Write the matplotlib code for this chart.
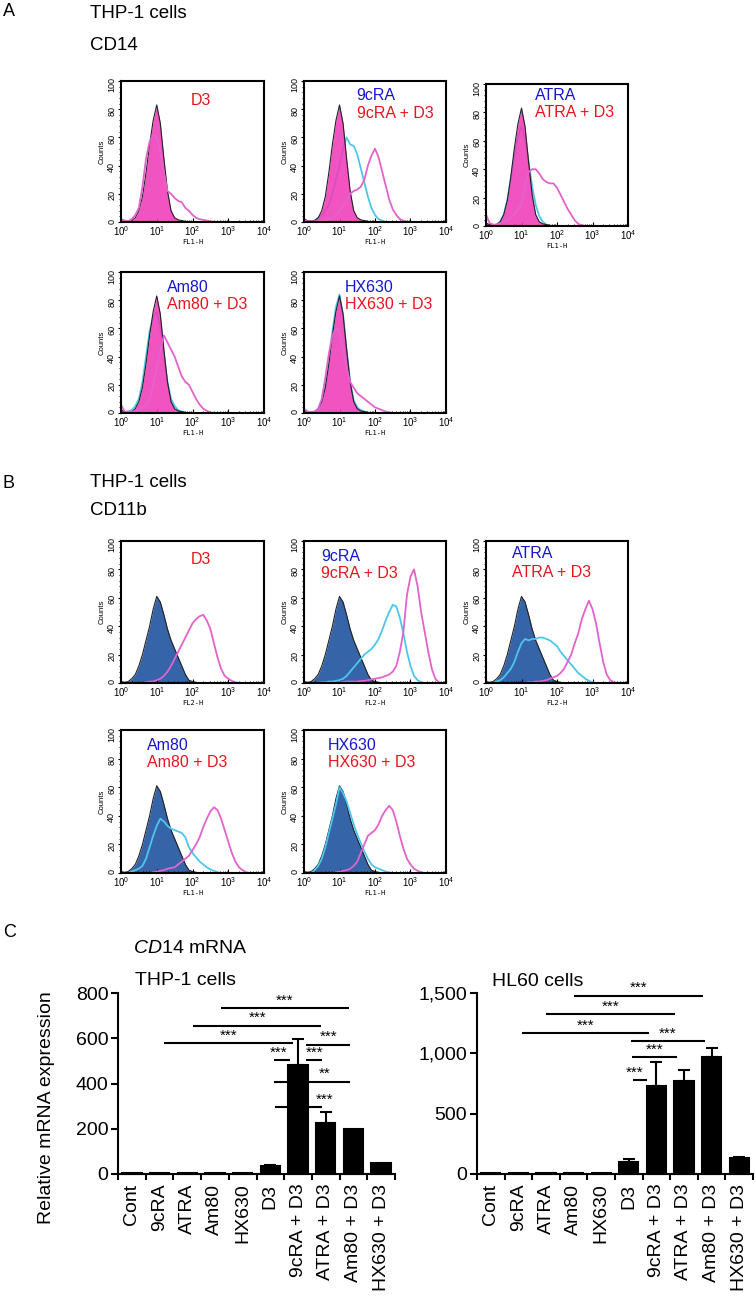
import numpy as np
import matplotlib.pyplot as plt
from matplotlib.ticker import MultipleLocator, LogLocator, NullFormatter

plt.rcParams['font.family'] = ['Liberation Sans', 'DejaVu Sans']
plt.rcParams['mathtext.fontset'] = 'custom'
plt.rcParams['mathtext.rm'] = 'Liberation Sans'
plt.rcParams['mathtext.it'] = 'Liberation Sans:italic'

# ---- flow cytometry histograms: counts at 0.1-decade steps of log10(FL) ----
log_fl = np.arange(41) / 10.0

# panel A, CD14 (FL1-H)
a_ctrl = [2, 1, 0.5, 1, 3, 8, 18, 35, 55, 72, 83, 70, 45, 22, 8, 3, 1.5, 1, 0.5]
a_d3 = [2, 1, 0.5, 2, 5, 10, 25, 45, 57, 62, 60, 50, 35, 22, 20, 17, 15, 14, 10, 8,
        5, 3, 2, 1.5, 1, 0.5]
a_9cra = [1, 0.5, 0.5, 1, 3, 5, 8, 12, 20, 30, 40, 52, 60, 55, 54, 48, 38, 28, 18, 10,
          5, 2, 1]
a_9cra_d3 = [1, 0.5, 0.5, 0.5, 1, 1, 1.5, 2, 3, 5, 8, 12, 15, 20, 22, 23, 25, 30, 40, 47,
             52, 46, 36, 26, 16, 9, 5, 2, 1]
a_atra = [1, 0.5, 0.5, 1, 3, 8, 18, 33, 50, 63, 70, 62, 45, 28, 15, 7, 3, 1]
a_atra_d3 = [8, 2, 1, 1, 2, 3, 4, 6, 8, 12, 15, 28, 38, 40, 40, 37, 33, 31, 30, 30,
             27, 22, 17, 12, 8, 4, 1.5, 0.5]
a_am80 = [1, 0.5, 1, 2, 5, 10, 22, 40, 58, 68, 72, 60, 40, 22, 10, 5, 2, 1]
a_am80_d3 = [6, 1, 1, 1, 1.5, 2, 4, 6, 10, 20, 32, 45, 55, 50, 45, 40, 33, 26, 22, 20,
             15, 10, 6, 3, 1.5, 0.5]
a_hx630 = [1, 0.5, 0.5, 1, 3, 8, 18, 36, 58, 75, 84, 70, 45, 22, 9, 4, 2, 1]
a_hx630_d3 = [3, 1, 0.5, 1, 3, 10, 25, 42, 55, 60, 58, 45, 32, 22, 18, 14, 12, 10, 8, 6,
              4, 3, 2, 1, 0.5]

# panel B, CD11b
b_ctrl = [1, 0.5, 1, 3, 6, 12, 20, 30, 40, 52, 61, 57, 48, 38, 30, 24, 18, 12, 6, 2,
          1, 0.5]
b_d3 = [0, 0, 0, 0, 0, 0, 0, 0.5, 1, 1, 2, 3, 5, 8, 12, 17, 22, 27, 32, 37,
        42, 45, 47, 48, 44, 38, 28, 18, 10, 5, 3, 1.5, 0.5]
b_9cra = [0, 0, 0, 0, 0, 0.5, 0.5, 1, 1, 1.5, 2, 3, 5, 8, 11, 14, 17, 20, 22, 24,
          27, 31, 37, 44, 50, 55, 54, 46, 35, 22, 12, 5, 2, 0.5]
b_9cra_d3 = [0, 0, 0, 0, 0, 0, 0, 0, 0, 0, 0.5, 0.5, 1, 1, 1, 1, 1.5, 1.5, 2, 2.5,
             3, 3.5, 4, 5, 6, 8, 12, 22, 36, 62, 75, 80, 68, 50, 36, 22, 10, 3, 0.5]
b_atra = [0, 0, 0, 1, 2, 4, 7, 10, 15, 22, 28, 31, 30, 31, 31, 32, 32, 31, 30, 28,
          26, 22, 19, 16, 13, 10, 7, 5, 3, 1.5, 0.5]
b_atra_d3 = [0, 0, 0, 0, 0, 0, 0, 0, 0, 0, 0, 0, 0.5, 0.5, 1, 1, 1.5, 2, 3, 4,
             5, 7, 10, 15, 20, 28, 35, 45, 52, 58, 52, 42, 28, 15, 6, 2, 0.5]
b_am80 = [0, 0, 0, 1, 2, 3, 5, 10, 18, 26, 33, 38, 36, 33, 31, 30, 29, 28, 25, 18,
          14, 11, 8, 6, 4, 2.5, 1.5, 0.5]
b_am80_d3 = [0, 0, 0, 0, 0, 0, 0, 0, 0, 0.5, 1, 1.5, 2, 3, 3.5, 4, 6, 8, 10, 12,
             16, 20, 25, 32, 38, 43, 46, 44, 38, 30, 22, 14, 8, 4, 2, 0.5]
b_hx630 = [0, 0, 0, 2, 5, 10, 18, 28, 38, 48, 60, 56, 50, 42, 34, 27, 21, 15, 10, 6,
           4, 3, 2, 1, 0.5]
b_hx630_d3 = [0, 0, 0, 0, 0, 0, 0, 0, 0, 0.5, 1, 1.5, 2, 3, 5, 8, 14, 20, 26, 28,
              30, 34, 40, 44, 47, 44, 36, 26, 17, 10, 6, 3, 1.5, 0.5]

# ---- qPCR bars (panel C) ----
categories = ['Cont', '9cRA', 'ATRA', 'Am80', 'HX630', 'D3',
              '9cRA + D3', 'ATRA + D3', 'Am80 + D3', 'HX630 + D3']
thp1_mean = [3, 3, 3, 3, 3, 35, 480, 225, 200, 50]
thp1_err = [0, 0, 0, 0, 0, 5, 115, 50, 0, 0]
hl60_mean = [5, 5, 5, 5, 5, 100, 730, 770, 970, 133]
hl60_err = [0, 0, 0, 0, 0, 24, 198, 92, 74, 8]

# (start, end, height, stars, label position or None)
thp1_sig = [(3.22, 7.84, 734, '***', None), (2.22, 6.83, 656, '***', None),
            (1.17, 5.80, 578, '***', None), (6.29, 7.88, 572, '***', None),
            (5.13, 5.71, 502, '***', 5.30), (6.29, 6.87, 502, '***', None),
            (5.13, 7.86, 407, '**', 6.97), (5.15, 6.85, 295, '***', 6.97)]
hl60_sig = [(3.03, 7.69, 1478, '***', None), (2.01, 6.66, 1326, '***', None),
            (1.12, 5.73, 1166, '***', None), (5.08, 7.75, 1100, '***', None),
            (5.11, 6.75, 967, '***', None), (5.14, 5.66, 779, '***', 5.20)]

PINK = '#E462CC'
CYAN = '#4DC6EC'
PINK_FILL = '#F03CB8'
BLUE_FILL = '#3564A8'
BLUE_TXT = '#1616CC'
RED_TXT = '#E8141E'

W, H = 756, 1296
fig = plt.figure(figsize=(W / 100, H / 100), dpi=100)


def px_axes(l, t, r, b):
    return fig.add_axes([l / W, 1 - b / H, (r - l) / W, (b - t) / H])


def px_text(x, y, s, **kw):
    fig.text(x / W, 1 - y / H, s, **kw)


def counts(vals):
    out = np.zeros(len(log_fl))
    out[:len(vals)] = vals
    return out


def flow_plot(ax, ctrl, fill_color, pair, labels, xlab, lines_on_top):
    x = 10 ** log_fl
    c = counts(ctrl)
    fz, lz = (1, 3) if lines_on_top else (3, 1)
    ax.fill_between(x, c, color=fill_color, alpha=0.88 if not lines_on_top else 1,
                    lw=0, zorder=fz)
    ax.plot(x, c, color='#222222', lw=0.8, zorder=fz + 0.5)
    for vals, col in pair:
        z = lz if col == CYAN else 4
        ax.plot(x, counts(vals), color=col, lw=1.3, zorder=z)

    ax.set_xscale('log')
    ax.set_xlim(1, 1e4)
    ax.set_ylim(0, 100)
    for sp in ax.spines.values():
        sp.set_linewidth(1.5)
        sp.set_zorder(5)
    ax.yaxis.set_major_locator(MultipleLocator(20))
    ax.yaxis.set_minor_locator(MultipleLocator(4))
    ax.xaxis.set_major_locator(LogLocator(base=10, numticks=12))
    ax.xaxis.set_minor_locator(LogLocator(base=10, subs=np.arange(2, 10), numticks=12))
    ax.xaxis.set_minor_formatter(NullFormatter())
    ax.tick_params(axis='y', which='major', labelsize=6.5, labelrotation=90,
                   direction='out', length=2.5, width=0.8, pad=1)
    ax.tick_params(axis='y', which='minor', direction='out', length=1.5, width=0.6)
    ax.tick_params(axis='x', which='major', labelsize=7, direction='in',
                   length=3, width=0.8, pad=1.5)
    ax.tick_params(axis='x', which='minor', direction='in', length=1.8, width=0.6)
    ax.set_ylabel('Counts', fontsize=5.5, labelpad=1)
    ax.set_xlabel(xlab, fontsize=5, family='DejaVu Sans Mono', labelpad=0.5)

    for tx, ty, s, col, ha in labels:
        ax.text(tx, ty, s, color=col, fontsize=11.5, ha=ha, va='center',
                transform=ax.transAxes, zorder=6)


# ---- panel A ----
px_text(3, 16, 'A', fontsize=13, va='baseline')
px_text(90, 18, 'THP-1 cells', fontsize=13.5, va='baseline')
px_text(90, 50, 'CD14', fontsize=13.5, va='baseline')

ax = px_axes(121, 81, 264, 222)
flow_plot(ax, a_ctrl, PINK_FILL, [(a_d3, PINK)],
          [(0.56, 0.865, 'D3', RED_TXT, 'center')], 'FL1-H', False)
ax = px_axes(304, 81, 446, 222)
flow_plot(ax, a_ctrl, PINK_FILL, [(a_9cra, CYAN), (a_9cra_d3, PINK)],
          [(0.37, 0.90, '9cRA', BLUE_TXT, 'left'),
           (0.37, 0.77, '9cRA + D3', RED_TXT, 'left')], 'FL1-H', False)
ax = px_axes(486, 84, 628, 226)
flow_plot(ax, a_ctrl, PINK_FILL, [(a_atra, CYAN), (a_atra_d3, PINK)],
          [(0.345, 0.92, 'ATRA', BLUE_TXT, 'left'),
           (0.345, 0.80, 'ATRA + D3', RED_TXT, 'left')], 'FL1-H', False)
ax = px_axes(121, 272, 264, 413)
flow_plot(ax, a_ctrl, PINK_FILL, [(a_am80, CYAN), (a_am80_d3, PINK)],
          [(0.32, 0.89, 'Am80', BLUE_TXT, 'left'),
           (0.32, 0.77, 'Am80 + D3', RED_TXT, 'left')], 'FL1-H', False)
ax = px_axes(304, 272, 446, 413)
flow_plot(ax, a_ctrl, PINK_FILL, [(a_hx630, CYAN), (a_hx630_d3, PINK)],
          [(0.29, 0.89, 'HX630', BLUE_TXT, 'left'),
           (0.29, 0.77, 'HX630 + D3', RED_TXT, 'left')], 'FL1-H', False)

# ---- panel B ----
px_text(3, 488, 'B', fontsize=13, va='baseline')
px_text(90, 487, 'THP-1 cells', fontsize=13.5, va='baseline')
px_text(90, 515, 'CD11b', fontsize=13.5, va='baseline')

ax = px_axes(121, 541, 264, 683)
flow_plot(ax, b_ctrl, BLUE_FILL, [(b_d3, PINK)],
          [(0.56, 0.87, 'D3', RED_TXT, 'center')], 'FL2-H', True)
ax = px_axes(304, 541, 446, 683)
flow_plot(ax, b_ctrl, BLUE_FILL, [(b_9cra, CYAN), (b_9cra_d3, PINK)],
          [(0.12, 0.89, '9cRA', BLUE_TXT, 'left'),
           (0.12, 0.77, '9cRA + D3', RED_TXT, 'left')], 'FL2-H', True)
ax = px_axes(486, 541, 628, 683)
flow_plot(ax, b_ctrl, BLUE_FILL, [(b_atra, CYAN), (b_atra_d3, PINK)],
          [(0.18, 0.91, 'ATRA', BLUE_TXT, 'left'),
           (0.18, 0.78, 'ATRA + D3', RED_TXT, 'left')], 'FL2-H', True)
ax = px_axes(121, 730, 264, 873)
flow_plot(ax, b_ctrl, BLUE_FILL, [(b_am80, CYAN), (b_am80_d3, PINK)],
          [(0.18, 0.895, 'Am80', BLUE_TXT, 'left'),
           (0.18, 0.77, 'Am80 + D3', RED_TXT, 'left')], 'FL1-H', True)
ax = px_axes(304, 730, 446, 873)
flow_plot(ax, b_ctrl, BLUE_FILL, [(b_hx630, CYAN), (b_hx630_d3, PINK)],
          [(0.17, 0.895, 'HX630', BLUE_TXT, 'left'),
           (0.17, 0.77, 'HX630 + D3', RED_TXT, 'left')], 'FL1-H', True)


# ---- panel C ----
def bar_plot(ax, means, errs, ymax, yticks, yticklabels, sig):
    pos = np.arange(len(categories))
    means = np.array(means, float)
    errs = np.array(errs, float)
    ax.bar(pos, means, width=0.7, color='black', edgecolor='black', lw=1.5,
           zorder=3, clip_on=False)
    m = errs > 0
    ax.errorbar(pos[m], means[m], yerr=[np.zeros(m.sum()), errs[m]], fmt='none',
                ecolor='black', elinewidth=1.5, capsize=4.5, capthick=1.5, zorder=3)
    ax.set_xlim(-0.5, len(categories) - 0.5)
    ax.set_ylim(0, ymax)
    for s in ['top', 'right']:
        ax.spines[s].set_visible(False)
    for s in ['left', 'bottom']:
        ax.spines[s].set_linewidth(1.5)
    ax.set_yticks(yticks)
    ax.set_yticklabels(yticklabels)
    ax.set_xticks(np.arange(len(categories) + 1) - 0.5)
    ax.set_xticklabels([])
    ax.set_xticks(pos, minor=True)
    ax.set_xticklabels(categories, minor=True, rotation=90, fontsize=14)
    ax.tick_params(axis='x', which='major', length=4, width=1.5)
    ax.tick_params(axis='x', which='minor', length=0, pad=7)
    ax.tick_params(axis='y', labelsize=14, length=5, width=1.5, pad=2)
    for x0, x1, y, stars, lx in sig:
        ax.plot([x0, x1], [y, y], color='black', lw=1.5, solid_capstyle='butt',
                clip_on=False, zorder=4)
        ax.annotate(stars, ((x0 + x1) / 2 if lx is None else lx, y), xytext=(0, 5.5),
                    textcoords='offset points', ha='center', va='center',
                    fontsize=11, annotation_clip=False)


px_text(3, 937, 'C', fontsize=13, va='baseline')
px_text(133, 953, r'$\it{CD14}$ mRNA', fontsize=14, va='baseline')
px_text(135, 985, 'THP-1 cells', fontsize=14, va='baseline')
px_text(492, 986, 'HL60 cells', fontsize=14, va='baseline')
px_text(47, 1108, 'Relative mRNA expression', fontsize=14, rotation=90,
        ha='center', va='center')

ax = px_axes(118, 993, 395, 1174)
bar_plot(ax, thp1_mean, thp1_err, 800, [0, 200, 400, 600, 800],
         ['0', '200', '400', '600', '800'], thp1_sig)
ax = px_axes(477, 993, 753, 1174)
bar_plot(ax, hl60_mean, hl60_err, 1500, [0, 500, 1000, 1500],
         ['0', '500', '1,000', '1,500'], hl60_sig)

fig.savefig('out.png', dpi=100)
